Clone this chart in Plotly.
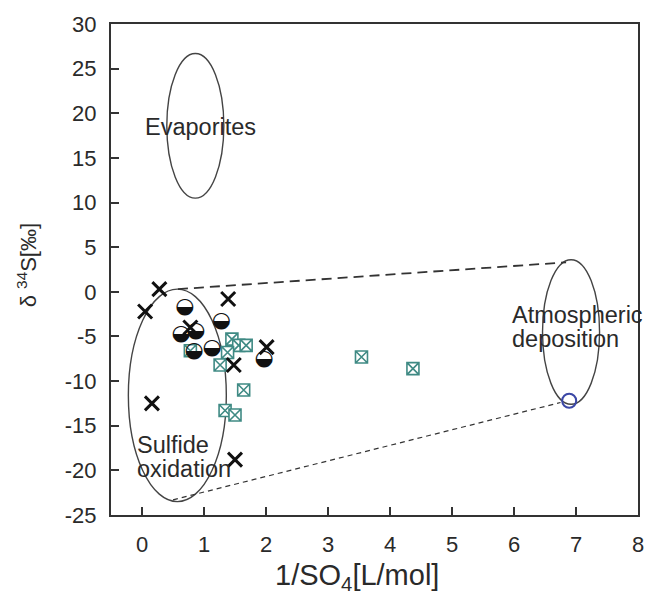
import plotly.graph_objects as go

# ---- data ----
cross_x = [0.28, 0.05, 1.39, 0.78, 2.01, 1.48, 0.16, 1.50]
cross_y = [0.3, -2.2, -0.8, -4.0, -6.2, -8.2, -12.5, -18.8]

half_x = [0.69, 1.28, 0.63, 0.87, 0.84, 1.13, 1.97]
half_y = [-1.8, -3.3, -4.8, -4.4, -6.7, -6.3, -7.6]

square_x = [0.78, 1.45, 1.56, 1.68, 1.38, 1.26, 1.64, 1.34, 1.50, 3.54, 4.37]
square_y = [-6.6, -5.3, -6.0, -6.0, -6.8, -8.2, -11.0, -13.3, -13.8, -7.3, -8.6]

rain_x = [6.89]
rain_y = [-12.2]

# ellipses: Evaporites, Sulfide oxidation, Atmospheric deposition
ell_cx = [0.86, 0.57, 6.92]
ell_cy = [18.6, -11.6, -4.5]
ell_rx = [0.46, 0.79, 0.46]
ell_ry = [8.1, 11.9, 8.1]

# mixing lines (start x, start y, end x, end y)
upper_line = [0.58, 0.3, 6.84, 3.3]
lower_line = [0.50, -23.3, 6.75, -12.4]

# labels
label_text = ["Evaporites", "Atmospheric", "deposition", "Sulfide", "oxidation"]
label_x = [0.95, 5.93, 5.93, -0.11, -0.11]
label_y = [18.5, -2.6, -5.3, -17.2, -19.8]
label_anchor = ["center", "left", "left", "left", "left"]

x_ticks = [0, 1, 2, 3, 4, 5, 6, 7, 8]
x_ticktext = ["0", "1", "2", "3", "4", "5", "6", "7", "8"]
y_ticks = [-25, -20, -15, -10, -5, 0, 5, 10, 15, 20, 25, 30]
y_ticktext = ["-25", "-20", "-15", "-10", "-5", "0", "5", "10", "15", "20", "25", "30"]

FONT = "Liberation Sans, Arial, sans-serif"
INK = "#2a2a2a"

fig = go.Figure()

fig.add_trace(go.Scatter(
    x=square_x, y=square_y, mode="markers",
    marker=dict(symbol="square-x", size=12, color="white",
                line=dict(color="#3f8a84", width=1.6)),
    showlegend=False))

fig.add_trace(go.Scatter(
    x=cross_x, y=cross_y, mode="markers",
    marker=dict(symbol="x-thin", size=14, color="#111",
                line=dict(color="#111", width=3)),
    showlegend=False))

fig.add_trace(go.Scatter(
    x=half_x, y=half_y, mode="text", text=["◒"] * len(half_x),
    textfont=dict(family="DejaVu Sans", size=22, color="#111"),
    textposition="middle center",
    showlegend=False))

fig.add_trace(go.Scatter(
    x=rain_x, y=rain_y, mode="markers",
    marker=dict(symbol="circle-open", size=14, color="#3b47a6",
                line=dict(color="#3b47a6", width=2)),
    showlegend=False))

shapes = []
for cx, cy, rx, ry in zip(ell_cx, ell_cy, ell_rx, ell_ry):
    shapes.append(dict(type="circle", xref="x", yref="y",
                       x0=cx - rx, x1=cx + rx, y0=cy - ry, y1=cy + ry,
                       line=dict(color="#444", width=1.4), layer="below"))
shapes.append(dict(type="line", xref="x", yref="y",
                   x0=upper_line[0], y0=upper_line[1], x1=upper_line[2], y1=upper_line[3],
                   line=dict(color="#333", width=1.8, dash="10px,6px")))
shapes.append(dict(type="line", xref="x", yref="y",
                   x0=lower_line[0], y0=lower_line[1], x1=lower_line[2], y1=lower_line[3],
                   line=dict(color="#333", width=1.2, dash="5px,4px")))

annotations = []
for t, x, y, a in zip(label_text, label_x, label_y, label_anchor):
    annotations.append(dict(text=t, x=x, y=y, xref="x", yref="y", xanchor=a,
                            yanchor="middle", showarrow=False,
                            font=dict(family=FONT, size=23.5, color=INK)))
annotations.append(dict(text="1/SO<sub>4</sub>[L/mol]", x=3.47, xref="x",
                        y=-0.126, yref="paper", xanchor="center", yanchor="middle",
                        showarrow=False, font=dict(family=FONT, size=29, color=INK)))
annotations.append(dict(text="δ <sup>34</sup>S[‰]", x=-0.159, xref="paper",
                        y=0.509, yref="paper", xanchor="center", yanchor="middle",
                        textangle=-90, showarrow=False,
                        font=dict(family=FONT, size=22, color=INK)))

axis_common = dict(showgrid=False, zeroline=False, showline=True, mirror=True,
                   linecolor="#333", linewidth=2, ticks="inside", ticklen=8,
                   tickwidth=1.6, tickcolor="#333", automargin=False,
                   tickfont=dict(family=FONT, size=22, color=INK))

fig.update_layout(
    width=645, height=591,
    margin=dict(l=111, r=7, t=24, b=76),
    paper_bgcolor="white", plot_bgcolor="white",
    xaxis=dict(range=[-0.5, 8], tickvals=x_ticks, ticktext=x_ticktext,
               ticklabelstandoff=9, **axis_common),
    yaxis=dict(range=[-25, 30], tickvals=y_ticks, ticktext=y_ticktext,
               ticklabelstandoff=8, **axis_common),
    shapes=shapes, annotations=annotations, showlegend=False,
)

# remove the page's default body margin so the figure fills the window exactly
fig.write_html("out.html", config={"displayModeBar": False},
               post_script="document.body.style.margin='0';document.body.style.overflow='hidden';")
